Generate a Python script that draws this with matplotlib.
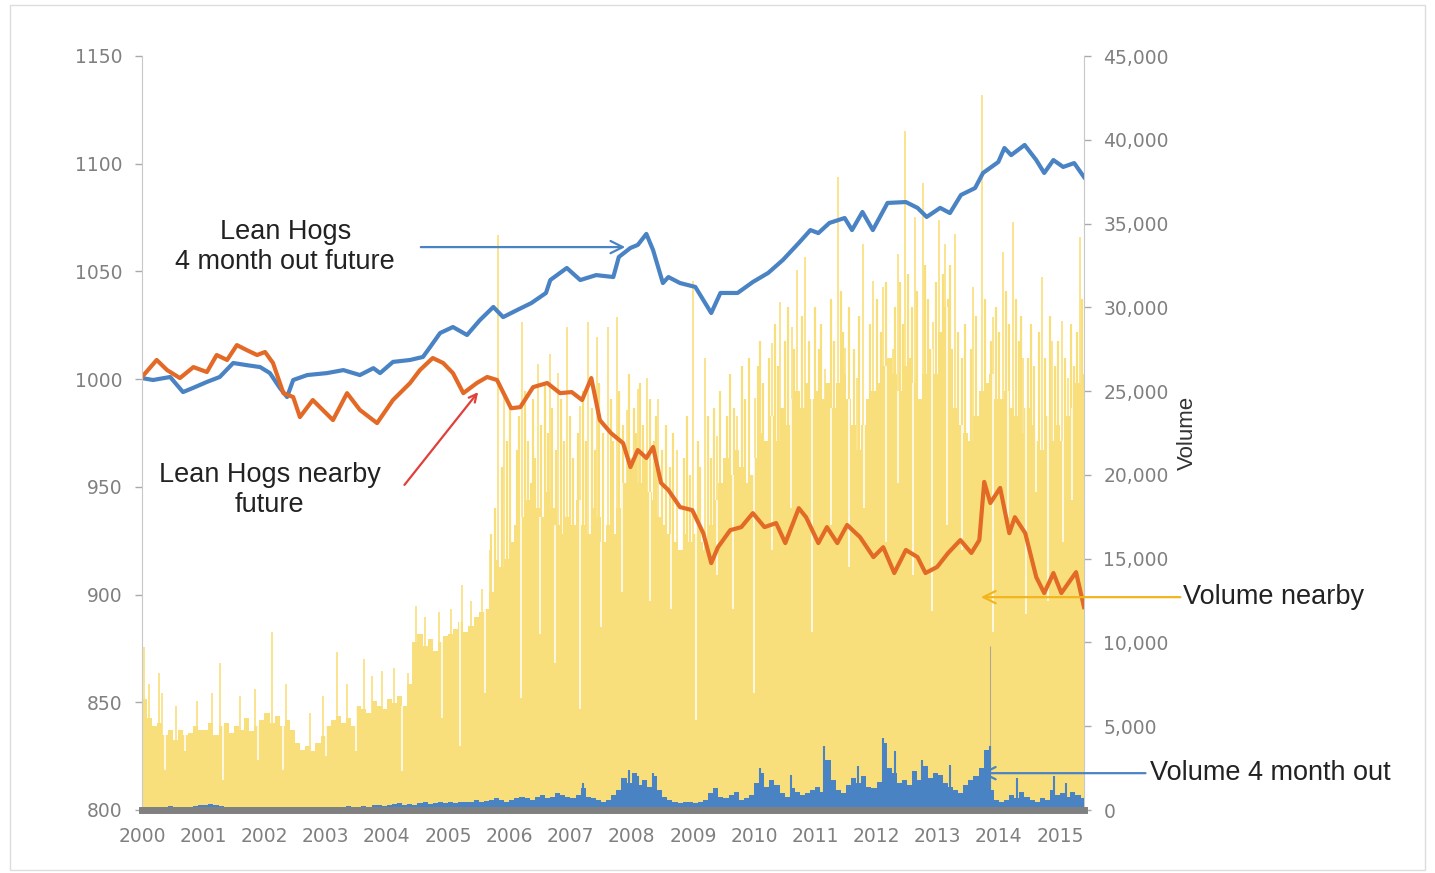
import numpy as np
import matplotlib
matplotlib.use("Agg")
import matplotlib.pyplot as plt
from matplotlib.patches import Rectangle

plt.rcParams['font.family'] = ['Liberation Sans', 'DejaVu Sans']

# === 1. Data ===
# Lean Hogs 4 month out future (blue line): year, index level
hogs_4m_years = [2000.0, 2000.18, 2000.46, 2000.67, 2000.84, 2001.06, 2001.27, 2001.49, 2001.71, 2001.93,
                 2002.09, 2002.25, 2002.37, 2002.47, 2002.70, 2003.02, 2003.29, 2003.56, 2003.78, 2003.89,
                 2004.10, 2004.38, 2004.59, 2004.71, 2004.87, 2005.08, 2005.31, 2005.52, 2005.74, 2005.90,
                 2006.13, 2006.36, 2006.60, 2006.67, 2006.94, 2007.16, 2007.42, 2007.70, 2007.79, 2007.98,
                 2008.10, 2008.24, 2008.35, 2008.51, 2008.60, 2008.79, 2009.04, 2009.30, 2009.45, 2009.73,
                 2009.98, 2010.23, 2010.47, 2010.73, 2010.92, 2011.05, 2011.23, 2011.48, 2011.60, 2011.77,
                 2011.94, 2012.18, 2012.48, 2012.67, 2012.82, 2013.04, 2013.20, 2013.38, 2013.61, 2013.74,
                 2013.99, 2014.09, 2014.20, 2014.42, 2014.61, 2014.74, 2014.89, 2015.05, 2015.23, 2015.39]
hogs_4m = [1000.5, 999.6, 1001.0, 994.0, 996.0, 998.7, 1001.0, 1007.5, 1006.5, 1005.6,
           1002.8, 996.0, 991.7, 999.6, 1001.9, 1002.8, 1004.2, 1001.9, 1005.1, 1002.8,
           1008.0, 1008.9, 1010.3, 1015.0, 1021.4, 1024.2, 1020.5, 1027.4, 1033.5, 1028.8,
           1032.1, 1035.3, 1040.0, 1046.0, 1051.6, 1046.0, 1048.3, 1047.4, 1056.7, 1060.9,
           1062.3, 1067.4, 1059.9, 1044.6, 1047.4, 1044.6, 1042.8, 1030.7, 1040.0, 1040.0,
           1045.1, 1049.3, 1055.3, 1063.2, 1069.2, 1067.8, 1072.5, 1074.8, 1069.2, 1077.6,
           1069.2, 1081.8, 1082.2, 1079.5, 1075.3, 1079.5, 1077.1, 1085.5, 1088.7, 1095.7,
           1100.8, 1107.3, 1104.0, 1108.7, 1101.7, 1095.7, 1101.7, 1098.5, 1100.3, 1093.8]

# Lean Hogs nearby future (orange line)
hogs_near_years = [2000.0, 2000.24, 2000.41, 2000.62, 2000.84, 2001.06, 2001.22, 2001.39, 2001.55, 2001.71,
                   2001.88, 2002.01, 2002.14, 2002.31, 2002.47, 2002.58, 2002.79, 2003.12, 2003.35, 2003.56,
                   2003.84, 2004.10, 2004.38, 2004.54, 2004.75, 2004.92, 2005.08, 2005.25, 2005.47, 2005.64,
                   2005.80, 2006.03, 2006.18, 2006.39, 2006.62, 2006.83, 2007.02, 2007.19, 2007.34, 2007.48,
                   2007.66, 2007.86, 2007.98, 2008.10, 2008.24, 2008.35, 2008.48, 2008.60, 2008.79, 2008.99,
                   2009.17, 2009.30, 2009.41, 2009.61, 2009.79, 2009.98, 2010.17, 2010.36, 2010.51, 2010.73,
                   2010.85, 2011.05, 2011.19, 2011.36, 2011.52, 2011.73, 2011.95, 2012.11, 2012.29, 2012.48,
                   2012.67, 2012.80, 2012.99, 2013.17, 2013.37, 2013.55, 2013.68, 2013.76, 2013.86, 2014.02,
                   2014.17, 2014.26, 2014.43, 2014.61, 2014.74, 2014.89, 2015.02, 2015.26, 2015.39]
hogs_near = [1001.0, 1008.9, 1004.2, 1000.5, 1005.6, 1003.3, 1011.2, 1008.9, 1015.8, 1013.5,
             1011.2, 1012.6, 1007.5, 993.5, 991.7, 982.4, 990.3, 981.0, 993.5, 985.7,
             979.6, 990.3, 998.2, 1004.2, 1009.8, 1007.5, 1002.8, 993.5, 998.2, 1001.0,
             999.6, 986.5, 987.0, 996.3, 998.2, 993.5, 994.0, 990.3, 1000.5, 981.0,
             975.0, 970.3, 959.2, 967.1, 963.4, 968.5, 951.8, 948.5, 940.6, 939.2,
             928.5, 914.6, 922.0, 929.9, 931.3, 937.8, 931.3, 933.2, 923.9, 940.1,
             935.9, 923.9, 931.3, 923.9, 932.3, 926.7, 917.4, 922.0, 910.0, 920.7,
             917.4, 910.0, 912.8, 919.3, 925.3, 919.3, 925.3, 952.3, 942.5, 949.5,
             928.5, 935.9, 928.5, 908.1, 900.7, 910.0, 900.7, 910.4, 894.2]

# Volume nearby, monthly level in thousands of contracts (Jan 2000 .. May 2015)
vol_near_2000 = [6.6, 5.5, 5.0, 5.2, 4.5, 4.8, 4.2, 4.8, 4.5, 4.6, 5.0, 4.8]
vol_near_2001 = [4.8, 5.2, 4.5, 5.0, 5.2, 4.6, 5.0, 4.8, 5.5, 4.7, 5.0, 5.4]
vol_near_2002 = [5.8, 5.2, 5.6, 5.0, 5.4, 4.8, 4.0, 3.6, 3.8, 3.5, 4.0, 4.4]
vol_near_2003 = [5.0, 5.4, 5.6, 5.2, 5.5, 5.0, 6.2, 6.0, 5.8, 6.5, 6.2, 6.0]
vol_near_2004 = [6.6, 6.4, 6.8, 6.2, 7.5, 10.0, 10.5, 9.8, 10.2, 9.5, 10.0, 10.4]
vol_near_2005 = [10.5, 10.8, 11.2, 10.6, 11.0, 11.5, 11.8, 12.0, 13.0, 14.9, 14.5, 15.0]
vol_near_2006 = [16.0, 17.0, 17.5, 18.5, 19.5, 18.0, 17.5, 19.0, 18.0, 17.0, 16.5, 17.5]
vol_near_2007 = [17.0, 18.5, 17.0, 16.5, 18.0, 17.5, 16.0, 17.0, 16.5, 18.0, 19.5, 21.0]
vol_near_2008 = [20.5, 19.5, 21.0, 19.0, 18.5, 17.5, 17.0, 16.5, 16.0, 15.5, 16.5, 16.0]
vol_near_2009 = [16.5, 16.0, 15.5, 17.0, 18.5, 19.5, 21.0, 20.0, 21.5, 20.5, 19.5, 20.0]
vol_near_2010 = [21.0, 22.5, 22.0, 23.5, 22.0, 24.0, 23.0, 24.5, 25.0, 24.0, 25.5, 24.5]
vol_near_2011 = [25.0, 24.5, 25.5, 24.0, 25.5, 26.0, 24.5, 23.0, 21.5, 23.0, 24.5, 25.0]
vol_near_2012 = [25.5, 26.5, 27.0, 26.0, 25.0, 26.5, 27.0, 25.5, 24.5, 26.0, 27.5, 26.0]
vol_near_2013 = [28.5, 30.0, 27.5, 24.0, 23.0, 22.5, 22.0, 23.5, 25.0, 25.5, 26.0, 24.5]
vol_near_2014 = [24.5, 25.0, 24.0, 23.5, 22.5, 24.0, 23.0, 22.0, 21.5, 23.5, 22.0, 23.0]
vol_near_2015 = [22.0, 23.5, 24.0, 25.5, 26.0]

# single high-volume days (year, thousands)
near_spike_years = [2000.04, 2000.12, 2000.28, 2000.33, 2000.55, 2000.9, 2001.15, 2001.28, 2001.6, 2001.85,
                    2002.12, 2002.35, 2002.75, 2002.95, 2003.18, 2003.35, 2003.62, 2003.75, 2003.92, 2004.12,
                    2004.35, 2004.48, 2004.62, 2004.85, 2005.05, 2005.22, 2005.38, 2005.55, 2005.68, 2005.82,
                    2005.92, 2006.21, 2006.47, 2006.67, 2006.80, 2006.94, 2007.16, 2007.29, 2007.43, 2007.62,
                    2007.76, 2007.92, 2008.10, 2008.25, 2008.43, 2008.74, 2009.0, 2009.2, 2009.39, 2009.72,
                    2010.02, 2010.29, 2010.43, 2010.62, 2010.70, 2010.83, 2011.16, 2011.37, 2011.49, 2011.68,
                    2011.78, 2011.95, 2012.11, 2012.27, 2012.35, 2012.47, 2012.63, 2012.76, 2012.92, 2013.02,
                    2013.12, 2013.28, 2013.58, 2013.72, 2013.91, 2014.07, 2014.23, 2014.40, 2014.71, 2014.87,
                    2015.03, 2015.13, 2015.33]
near_spike_vals = [9.7, 7.5, 8.2, 7.0, 6.2, 6.5, 7.0, 8.8, 6.8, 7.2,
                   10.6, 7.5, 5.8, 6.8, 9.4, 7.5, 9.0, 8.0, 8.3, 8.5,
                   8.2, 12.2, 11.5, 11.8, 12.0, 13.4, 12.5, 13.2, 15.5, 34.3,
                   25.0, 29.1, 26.6, 27.2, 26.1, 28.8, 24.1, 29.1, 28.2, 28.8,
                   29.4, 23.9, 25.1, 25.8, 24.5, 21.5, 31.6, 27.0, 22.3, 23.5,
                   24.6, 27.9, 30.3, 28.8, 32.2, 33.0, 26.3, 37.8, 27.6, 25.8,
                   33.8, 31.6, 31.2, 27.5, 33.2, 40.5, 35.4, 37.4, 29.1, 35.2,
                   33.8, 34.4, 31.2, 42.7, 29.4, 33.3, 35.1, 27.0, 31.8, 28.0,
                   29.2, 25.8, 34.2]
# busy days that poke above the monthly level (year, thousands)
near_busy_years = [2005.70, 2005.76, 2005.88, 2005.96, 2006.02, 2006.12, 2006.16, 2006.26, 2006.30, 2006.38,
                   2006.42, 2006.52, 2006.58, 2006.63, 2006.70, 2006.76, 2006.85, 2006.90, 2007.00, 2007.04,
                   2007.12, 2007.20, 2007.25, 2007.35, 2007.40, 2007.47, 2007.53, 2007.66, 2007.70, 2007.80,
                   2007.86, 2007.96, 2008.03, 2008.07, 2008.14, 2008.18, 2008.30, 2008.36, 2008.40, 2008.50,
                   2008.56, 2008.62, 2008.68, 2008.85, 2008.90, 2008.95, 2009.08, 2009.12, 2009.24, 2009.30,
                   2009.35, 2009.45, 2009.55, 2009.60, 2009.68, 2009.80, 2009.85, 2009.92, 2010.06, 2010.10,
                   2010.15, 2010.25, 2010.34, 2010.39, 2010.50, 2010.56, 2010.66, 2010.78, 2010.90, 2011.00,
                   2011.06, 2011.10, 2011.25, 2011.30, 2011.42, 2011.46, 2011.55, 2011.64, 2011.72, 2011.90,
                   2012.00, 2012.08, 2012.15, 2012.30, 2012.38, 2012.44, 2012.52, 2012.58, 2012.66, 2012.80,
                   2012.84, 2012.97, 2013.08, 2013.16, 2013.20, 2013.33, 2013.40, 2013.45, 2013.54, 2013.62,
                   2013.77, 2013.87, 2013.95, 2014.00, 2014.11, 2014.16, 2014.28, 2014.33, 2014.36, 2014.48,
                   2014.53, 2014.57, 2014.66, 2014.76, 2014.84, 2014.92, 2014.96, 2015.08, 2015.18, 2015.23,
                   2015.27, 2015.36]
near_busy_vals = [16.5, 18.0, 20.5, 22.0, 24.0, 21.5, 23.5, 25.0, 22.0, 24.5,
                  21.0, 23.0, 25.5, 22.5, 24.0, 21.5, 24.5, 22.0, 23.5, 21.0,
                  22.5, 25.0, 22.0, 24.0, 21.5, 25.5, 22.5, 24.5, 22.0, 25.0,
                  23.0, 26.0, 24.0, 22.5, 25.5, 23.0, 24.5, 22.0, 23.5, 21.5,
                  23.0, 20.5, 22.5, 21.0, 23.5, 20.0, 22.0, 20.5, 23.5, 21.0,
                  24.0, 25.0, 23.5, 26.0, 24.0, 26.5, 24.5, 27.0, 26.5, 28.0,
                  25.5, 27.0, 29.0, 26.5, 28.0, 30.0, 27.5, 29.5, 28.0, 30.0,
                  27.5, 29.0, 30.5, 28.0, 31.0, 28.5, 30.0, 27.5, 29.5, 29.0,
                  30.5, 28.5, 31.5, 30.0, 31.5, 29.0, 32.0, 30.0, 31.0, 32.5,
                  30.5, 31.5, 32.0, 30.5, 32.5, 28.5, 27.0, 29.0, 27.5, 29.5,
                  30.5, 28.0, 30.0, 28.5, 31.0, 29.0, 30.5, 28.0, 29.5, 27.0,
                  29.0, 26.5, 28.5, 27.0, 29.5, 26.5, 28.0, 27.0, 29.0, 26.5,
                  28.5, 30.5]
# single low-volume days (year, thousands)
near_dip_years = [2000.38, 2000.7, 2001.33, 2001.9, 2002.3, 2003.0, 2003.5, 2004.25, 2004.9, 2005.2,
                  2005.6, 2006.2, 2006.5, 2006.75, 2007.15, 2007.5, 2007.85, 2008.3, 2008.65, 2009.05,
                  2009.4, 2009.65, 2010.0, 2010.3, 2010.6, 2010.95, 2011.25, 2011.55, 2011.8, 2012.15,
                  2012.35, 2012.6, 2012.9, 2013.15, 2013.4, 2013.9, 2014.15, 2014.45, 2014.6, 2014.8,
                  2015.05, 2015.2]
near_dip_vals = [2.4, 3.5, 1.8, 3.0, 2.4, 3.2, 3.5, 2.3, 5.5, 3.8,
                 7.0, 6.7, 10.5, 8.8, 6.0, 10.9, 13.0, 12.5, 12.0, 5.4,
                 14.0, 12.0, 7.0, 15.5, 18.0, 10.6, 17.0, 14.5, 18.0, 16.0,
                 19.5, 14.0, 11.9, 17.0, 15.5, 10.6, 17.5, 11.7, 19.0, 12.5,
                 16.0, 18.5]

# Volume 4 month out, monthly level in thousands
vol_4m_2000 = [0.15, 0.2, 0.2, 0.15, 0.2, 0.25, 0.2, 0.15, 0.2, 0.2, 0.25, 0.3]
vol_4m_2001 = [0.3, 0.35, 0.3, 0.25, 0.2, 0.2, 0.15, 0.2, 0.2, 0.15, 0.2, 0.2]
vol_4m_2002 = [0.15, 0.2, 0.2, 0.15, 0.15, 0.2, 0.2, 0.15, 0.2, 0.2, 0.15, 0.2]
vol_4m_2003 = [0.2, 0.15, 0.2, 0.2, 0.25, 0.2, 0.2, 0.25, 0.2, 0.3, 0.3, 0.25]
vol_4m_2004 = [0.3, 0.35, 0.4, 0.3, 0.35, 0.3, 0.4, 0.45, 0.35, 0.4, 0.5, 0.4]
vol_4m_2005 = [0.45, 0.4, 0.5, 0.45, 0.5, 0.6, 0.5, 0.55, 0.6, 0.7, 0.6, 0.5]
vol_4m_2006 = [0.6, 0.7, 0.8, 0.7, 0.6, 0.8, 0.9, 0.7, 0.8, 1.0, 0.9, 0.8]
vol_4m_2007 = [0.7, 0.9, 1.3, 0.8, 0.7, 0.6, 0.5, 0.6, 0.9, 1.2, 1.9, 1.6]
vol_4m_2008 = [2.2, 1.5, 1.8, 1.4, 2.0, 1.2, 0.8, 0.6, 0.5, 0.4, 0.5, 0.5]
vol_4m_2009 = [0.4, 0.5, 0.6, 1.0, 1.3, 0.8, 0.7, 0.9, 1.1, 0.6, 0.7, 0.9]
vol_4m_2010 = [1.6, 2.2, 1.4, 1.8, 1.5, 1.0, 0.8, 1.3, 1.1, 0.9, 1.0, 1.2]
vol_4m_2011 = [1.4, 1.1, 3.0, 1.8, 1.2, 1.0, 1.5, 1.9, 1.6, 2.0, 1.4, 1.3]
vol_4m_2012 = [1.7, 4.0, 2.5, 2.2, 1.6, 1.8, 1.5, 2.3, 1.8, 2.6, 1.9, 2.2]
vol_4m_2013 = [2.1, 1.6, 1.4, 1.2, 1.0, 1.5, 1.8, 2.0, 2.5, 3.6, 1.2, 0.6]
vol_4m_2014 = [0.5, 0.6, 0.9, 0.7, 1.1, 0.8, 0.6, 0.5, 0.7, 0.6, 1.2, 0.9]
vol_4m_2015 = [1.0, 0.8, 1.1, 0.9, 0.7]

far_spike_years = [2007.2, 2007.95, 2008.1, 2008.35, 2010.1, 2010.6, 2011.15, 2011.7, 2012.1, 2012.3,
                   2012.75, 2013.2, 2013.8, 2013.85, 2014.3, 2014.9, 2015.1]
far_spike_vals = [1.6, 2.4, 2.0, 2.2, 2.5, 2.1, 3.8, 2.6, 4.3, 3.5,
                  3.0, 2.7, 3.4, 3.8, 1.9, 2.0, 1.6]

# thin grey trace that shows up once (year, thousands)
grey_spike_years = [2013.85]
grey_spike_vals = [9.8]

year_labels = [str(y) for y in range(2000, 2016)]

# === 2. Assemble series ===
vol_near = np.concatenate([vol_near_2000, vol_near_2001, vol_near_2002, vol_near_2003, vol_near_2004,
                           vol_near_2005, vol_near_2006, vol_near_2007, vol_near_2008, vol_near_2009,
                           vol_near_2010, vol_near_2011, vol_near_2012, vol_near_2013, vol_near_2014,
                           vol_near_2015]) * 1000
vol_4m = np.concatenate([vol_4m_2000, vol_4m_2001, vol_4m_2002, vol_4m_2003, vol_4m_2004,
                         vol_4m_2005, vol_4m_2006, vol_4m_2007, vol_4m_2008, vol_4m_2009,
                         vol_4m_2010, vol_4m_2011, vol_4m_2012, vol_4m_2013, vol_4m_2014,
                         vol_4m_2015]) * 1000
month_x = 2000 + np.arange(len(vol_near)) / 12.0

dip_x = np.array(near_dip_years)
dip_top = vol_near[np.clip(((dip_x - 2000) * 12).astype(int), 0, len(vol_near) - 1)]

YELLOW = '#f9df7c'
BLUE = '#4a83c4'
ORANGE = '#e26a26'
GREY_TXT = '#808080'

# === 3. Plot ===
fig = plt.figure(figsize=(14.35, 8.73), dpi=100)
fig.patches.append(Rectangle((10 / 1435, 3 / 873), 1415 / 1435, 865 / 873, transform=fig.transFigure,
                             fill=False, edgecolor='#dddddd', linewidth=1))
ax = fig.add_axes([142 / 1435, 1 - 810 / 873, 942 / 1435, 754 / 873])
ax2 = ax.twinx()

# volumes on the right axis (4 month out drawn on top of the nearby volume)
ax2.bar(month_x, vol_near, width=1 / 12, align='edge', color=YELLOW, linewidth=0, zorder=1)
ax2.vlines(near_busy_years, 0, np.array(near_busy_vals) * 1000, color=YELLOW, linewidth=1.6, zorder=1.1)
ax2.vlines(near_spike_years, 0, np.array(near_spike_vals) * 1000, color=YELLOW, linewidth=1.2, zorder=1.1)
ax2.vlines(dip_x, np.array(near_dip_vals) * 1000, dip_top, color='white', linewidth=1.1, zorder=1.2)
ax2.vlines(grey_spike_years, 0, np.array(grey_spike_vals) * 1000, color='#b0a890', linewidth=0.8, zorder=1.3)
ax2.bar(month_x, vol_4m, width=1 / 12, align='edge', color=BLUE, linewidth=0, zorder=3)
ax2.vlines(far_spike_years, 0, np.array(far_spike_vals) * 1000, color=BLUE, linewidth=1.5, zorder=3.1)
ax2.set_ylim(0, 45000)
ax2.set_yticks(range(0, 45001, 5000))
ax2.set_yticklabels([f"{v:,}" for v in range(0, 45001, 5000)])
ax2.set_ylabel("Volume", fontsize=16, color='#333333', labelpad=6)

# prices on the left axis, drawn above the volume bars
ax.set_zorder(ax2.get_zorder() + 1)
ax.patch.set_visible(False)
ax.plot(hogs_4m_years, hogs_4m, color=BLUE, linewidth=3)
ax.plot(hogs_near_years, hogs_near, color=ORANGE, linewidth=3)
ax.set_ylim(800, 1150)
ax.set_yticks(range(800, 1151, 50))
ax.set_xlim(2000, 2015.39)
ax.set_xticks(range(2000, 2016))
ax.set_xticklabels(year_labels)

for a in (ax, ax2):
    for s in a.spines.values():
        s.set_visible(False)
    a.tick_params(axis='y', colors='#aaaaaa', labelcolor=GREY_TXT, labelsize=13.5, length=5, width=1, pad=9)
    for lab in a.get_yticklabels():
        lab.set_family('DejaVu Sans')
ax.tick_params(axis='x', length=0, labelsize=13.5, labelcolor=GREY_TXT, pad=12)
for lab in ax.get_xticklabels():
    lab.set_family('DejaVu Sans')
ax.spines['left'].set_visible(True)
ax.spines['left'].set_color('#c8c8c8')
ax2.spines['right'].set_visible(True)
ax2.spines['right'].set_color('#c8c8c8')
ax.spines['bottom'].set_visible(True)
ax.spines['bottom'].set_color('#808080')
ax.spines['bottom'].set_linewidth(5)

# === 4. Annotations ===
txt = dict(fontsize=19.5, color='#222222', ha='center', va='center', linespacing=1.2)
ax.text(2002.34, 1061.3, "Lean Hogs\n4 month out future", **txt)
ax.annotate('', xy=(2007.94, 1061.3), xytext=(2004.51, 1061.3),
            arrowprops=dict(arrowstyle='->', color=BLUE, lw=1.6, mutation_scale=22))
ax.text(2002.09, 948.5, "Lean Hogs nearby\nfuture", **txt)
ax.annotate('', xy=(2005.52, 995.0), xytext=(2004.26, 949.9),
            arrowprops=dict(arrowstyle='->', color='#e0403a', lw=1.6, mutation_scale=14))
ax.annotate('', xy=(2013.66, 898.8), xytext=(2017.01, 898.8), annotation_clip=False,
            arrowprops=dict(arrowstyle='->', color='#f2b51e', lw=1.6, mutation_scale=22))
ax.text(2017.01, 898.8, "Volume nearby", fontsize=19.5, color='#222222', ha='left', va='center',
        clip_on=False)
ax.annotate('', xy=(2013.66, 817.1), xytext=(2016.44, 817.1), annotation_clip=False,
            arrowprops=dict(arrowstyle='->', color=BLUE, lw=1.6, mutation_scale=22))
ax.text(2016.47, 817.1, "Volume 4 month out", fontsize=19.5, color='#222222', ha='left', va='center',
        clip_on=False)

fig.savefig("out.png", dpi=100)
